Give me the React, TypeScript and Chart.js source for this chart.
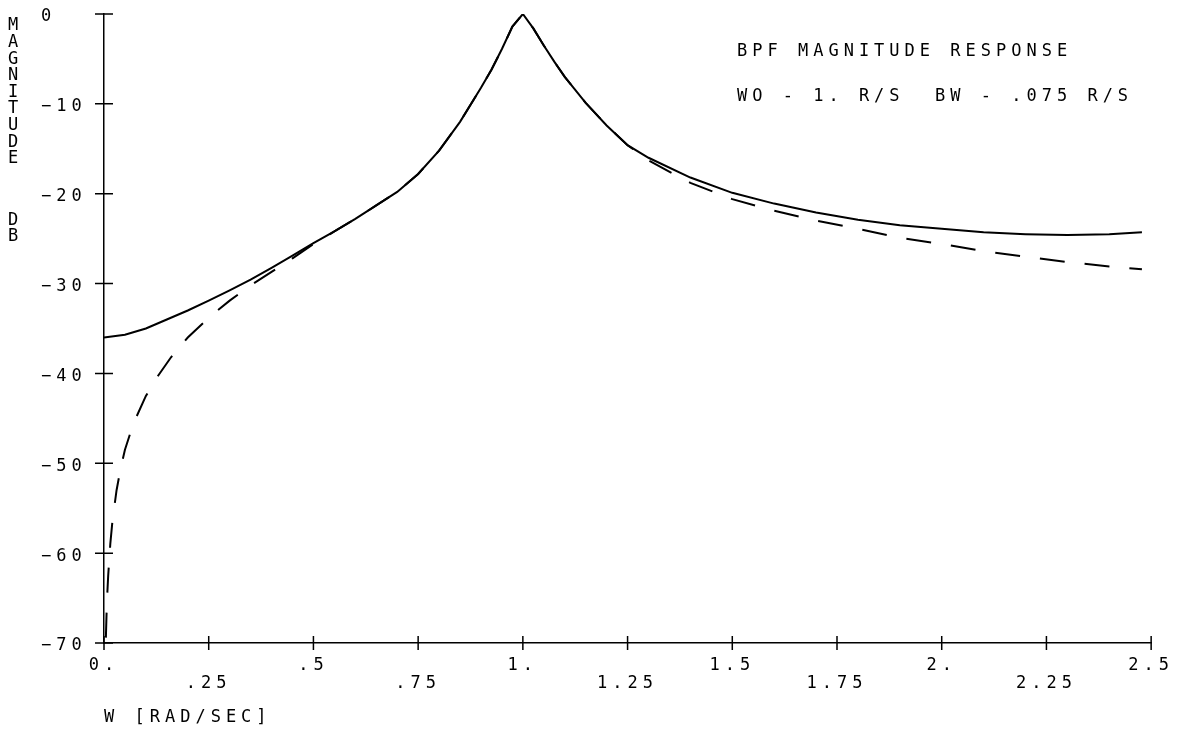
import { useEffect, useRef } from 'react';
import { Chart, registerables } from 'chart.js';

Chart.register(...registerables);

// Band-pass filter magnitude response, W0 = 1 rad/s, BW = 0.075 rad/s.
// Solid trace: computed response (dB).
const omegaSolid = [
  0, 0.05, 0.1, 0.15, 0.2, 0.25, 0.3, 0.35, 0.4, 0.45, 0.5, 0.55, 0.6, 0.65, 0.7,
  0.75, 0.8, 0.85, 0.9, 0.925, 0.95, 0.975, 1.0, 1.025, 1.05, 1.075, 1.1, 1.15,
  1.2, 1.25, 1.3, 1.4, 1.5, 1.6, 1.7, 1.8, 1.9, 2.0, 2.1, 2.2, 2.3, 2.4, 2.478,
];
const magSolid = [
  -36.0, -35.7, -35.0, -34.0, -33.0, -31.9, -30.75, -29.55, -28.25, -26.9, -25.5,
  -24.2, -22.8, -21.3, -19.8, -17.8, -15.2, -12.0, -8.2, -6.2, -3.9, -1.4, 0.0, -1.6,
  -3.5, -5.3, -7.0, -9.9, -12.4, -14.6, -16.0, -18.2, -19.9, -21.1, -22.1, -22.9,
  -23.5, -23.9, -24.3, -24.5, -24.6, -24.5, -24.3,
];

// Dashed trace: ideal second-order band-pass approximation (dB).
const omegaDashed = [
  0.0045, 0.006, 0.008, 0.01, 0.015, 0.02, 0.03, 0.04, 0.05, 0.07, 0.1, 0.13, 0.16,
  0.2, 0.25, 0.3, 0.35, 0.4, 0.45, 0.5, 0.55, 0.6, 0.65, 0.7, 0.75, 0.8, 0.85, 0.9,
  0.925, 0.95, 0.975, 1.0, 1.025, 1.05, 1.075, 1.1, 1.15, 1.2, 1.25, 1.3, 1.4, 1.5,
  1.6, 1.7, 1.8, 1.9, 2.0, 2.1, 2.2, 2.3, 2.4, 2.478,
];
const magDashed = [
  -69.4, -66.9, -64.4, -62.5, -59.0, -56.5, -53.0, -50.5, -48.5, -45.6, -42.5, -40.2,
  -38.2, -36.0, -33.8, -31.9, -30.2, -28.7, -27.2, -25.6, -24.2, -22.8, -21.3, -19.8,
  -17.8, -15.2, -12.0, -8.2, -6.2, -3.9, -1.4, 0.0, -1.6, -3.5, -5.3, -7.0, -9.9,
  -12.4, -14.6, -16.3, -18.8, -20.6, -21.9, -23.0, -23.9, -24.9, -25.6, -26.4, -27.0,
  -27.6, -28.1, -28.4,
];

const xTickValues = [0, 0.25, 0.5, 0.75, 1, 1.25, 1.5, 1.75, 2, 2.25, 2.5];
const xTickLabels = ['0.', '.25', '.5', '.75', '1.', '1.25', '1.5', '1.75', '2.', '2.25', '2.5'];
const yTickValues = [0, -10, -20, -30, -40, -50, -60, -70];
const yTickLabels = ['0', '\u221210', '\u221220', '\u221230', '\u221240', '\u221250', '\u221260', '\u221270'];

const noteLines = ['BPF MAGNITUDE RESPONSE', 'WO - 1. R/S  BW - .075 R/S'];
const yTitleWords = ['MAGNITUDE', 'DB'];
const xTitle = 'W [RAD/SEC]';

const FONT_FAMILY = '"DejaVu Sans Mono", monospace';
const FONT_SIZE = 17;
const SPACING = '5px';
const INK = '#000';

// Plotter-style lettering and axis ticks that cross the axis lines.
const plotterPlugin = {
  id: 'plotter',
  beforeUpdate(chart: any) {
    chart.ctx.letterSpacing = SPACING;
  },
  beforeDraw(chart: any) {
    chart.ctx.letterSpacing = SPACING;
  },
  afterDraw(chart: any) {
    const { ctx, chartArea, scales } = chart;
    const xs = scales.x;
    const ys = scales.y;
    ctx.save();
    ctx.strokeStyle = INK;
    ctx.lineWidth = 1.5;
    ctx.beginPath();
    xs.ticks.forEach((t: any) => {
      const px = xs.getPixelForValue(t.value);
      ctx.moveTo(px, chartArea.bottom - 7);
      ctx.lineTo(px, chartArea.bottom + 7);
    });
    ys.ticks.forEach((t: any) => {
      const py = ys.getPixelForValue(t.value);
      ctx.moveTo(chartArea.left - 9, py);
      ctx.lineTo(chartArea.left + 9, py);
    });
    ctx.stroke();

    ctx.fillStyle = INK;
    ctx.font = `${FONT_SIZE}px ${FONT_FAMILY}`;
    ctx.letterSpacing = SPACING;
    ctx.textBaseline = 'middle';
    ctx.textAlign = 'left';
    noteLines.forEach((line, i) => {
      ctx.fillText(line, 737, 52 + i * 45);
    });

    // Vertical axis caption, one letter under another.
    ctx.letterSpacing = '0px';
    ctx.textAlign = 'center';
    const wordStarts = [26, 221];
    const wordSteps = [16.6, 16];
    yTitleWords.forEach((word, w) => {
      Array.from(word).forEach((ch, i) => {
        ctx.fillText(ch, 13, wordStarts[w] + i * wordSteps[w]);
      });
    });
    ctx.restore();
    ctx.letterSpacing = SPACING;
  },
};

export default function App() {
  const canvasRef = useRef<HTMLCanvasElement | null>(null);

  useEffect(() => {
    const canvas = canvasRef.current;
    if (!canvas) return;
    const tickFont = { family: FONT_FAMILY, size: FONT_SIZE, lineHeight: '18px' };

    const chart = new Chart(canvas, {
      type: 'line',
      data: {
        datasets: [
          {
            label: 'response',
            data: omegaSolid.map((x, i) => ({ x, y: magSolid[i] })),
            borderColor: INK,
            borderWidth: 2,
            pointRadius: 0,
            tension: 0,
            fill: false,
          },
          {
            label: 'approximation',
            data: omegaDashed.map((x, i) => ({ x, y: magDashed[i] })),
            borderColor: INK,
            borderWidth: 2,
            borderDash: [25, 20],
            pointRadius: 0,
            tension: 0,
            fill: false,
          },
        ],
      },
      options: {
        animation: false,
        responsive: false,
        maintainAspectRatio: false,
        devicePixelRatio: 1,
        color: INK,
        layout: { padding: { left: 41, right: 26, top: 14, bottom: 0 } },
        plugins: {
          legend: { display: false },
          tooltip: { enabled: false },
        },
        scales: {
          x: {
            type: 'linear',
            min: 0,
            max: 2.5,
            grid: { display: false, drawTicks: false },
            border: { display: true, color: INK, width: 1.5 },
            afterBuildTicks: (scale: any) => {
              scale.ticks = xTickValues.map((value) => ({ value }));
            },
            afterFit: (scale: any) => {
              scale.height = 88;
            },
            ticks: {
              color: INK,
              font: tickFont,
              padding: 14,
              maxRotation: 0,
              autoSkip: false,
              callback: (value: any, index: number) => {
                const i = xTickValues.indexOf(Number(value));
                const text = i >= 0 ? xTickLabels[i] : '';
                return index % 2 === 1 ? ['', text] : text;
              },
            },
            title: {
              display: true,
              text: xTitle,
              align: 'start',
              color: INK,
              font: { family: FONT_FAMILY, size: FONT_SIZE, lineHeight: '16px' },
              padding: { top: 0, bottom: 5 },
            },
          },
          y: {
            type: 'linear',
            min: -70,
            max: 0,
            grid: { display: false, drawTicks: false },
            border: { display: true, color: INK, width: 1.5 },
            afterFit: (scale: any) => {
              scale.width = 63;
            },
            ticks: {
              color: INK,
              font: tickFont,
              stepSize: 10,
              crossAlign: 'far',
              labelOffset: 3,
              callback: (value: any) => {
                const i = yTickValues.indexOf(Number(value));
                return i >= 0 ? yTickLabels[i] : '';
              },
            },
          },
        },
      } as any,
      plugins: [plotterPlugin],
    });

    return () => {
      chart.destroy();
    };
  }, []);

  return (
    <div style={{ position: 'absolute', left: 0, top: 0, width: 1188, height: 731, background: '#fff' }}>
      <canvas ref={canvasRef} width={1188} height={731} style={{ display: 'block' }} />
    </div>
  );
}
